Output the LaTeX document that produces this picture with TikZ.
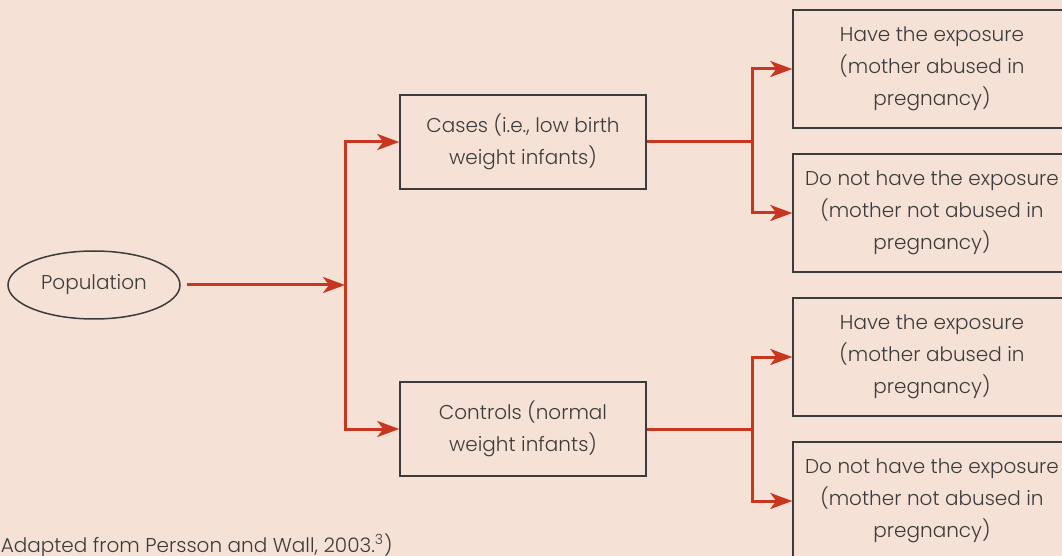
\documentclass[tikz,border=0pt]{standalone}
\usepackage{fontspec}
\setmainfont{Poppins}[UprightFont=* Light]
\usetikzlibrary{arrows.meta}
\usetikzlibrary{positioning}
\usetikzlibrary{shapes.geometric}
\definecolor{bgpeach}{HTML}{F6E1D7}
\definecolor{arrowred}{HTML}{C8361F}
\definecolor{inkgrey}{HTML}{3C3C3C}
\tikzset{flow/.style = {draw=arrowred, line width=1.5pt,
                        -{Stealth[length=11pt, width=8pt, inset=3pt]}}}
\tikzset{stage/.style = {draw=inkgrey, line width=0.75pt, text=inkgrey, align=center,
                         minimum width=123pt, minimum height=47pt, inner sep=0}}
\tikzset{outcome/.style = {stage, minimum width=139pt, minimum height=59pt}}

\begin{document}
\begin{tikzpicture}[x=0.5pt, y=-0.5pt, font=\fontsize{10pt}{16pt}\selectfont]
    \path [use as bounding box, fill=bgpeach] (0, 0) rectangle (1062, 556);

    \node [ellipse, draw=inkgrey, line width=0.75pt, text=inkgrey, inner sep=0,
           minimum width=86pt, minimum height=34pt] (pop) at (94, 285) {Population};

    \node [stage] (cases) at (523, 142) {Cases (i.e., low birth\\weight infants)};
    \node [stage] (controls) at (523, 429) {Controls (normal\\weight infants)};

    \node [outcome] (exp1) at (932, 69) {Have the exposure\\(mother abused in\\pregnancy)};
    \node [outcome] (noexp1) at (932, 213) {Do not have the exposure\\(mother not abused in\\pregnancy)};
    \node [outcome] (exp2) at (932, 357) {Have the exposure\\(mother abused in\\pregnancy)};
    \node [outcome] (noexp2) at (932, 501) {Do not have the exposure\\(mother not abused in\\pregnancy)};

    \coordinate (split) at (345, 285);
    \coordinate (fork1) at (752, 142);
    \coordinate (fork2) at (752, 429);

    \draw [flow, shorten <=3pt] (pop) -- (split);
    \draw [flow] (split) |- (cases);
    \draw [flow] (split) |- (controls);

    \draw [flow, -] (cases) -- (fork1);
    \draw [flow] (fork1) |- (exp1);
    \draw [flow] (fork1) |- (noexp1);

    \draw [flow, -] (controls) -- (fork2);
    \draw [flow] (fork2) |- (exp2);
    \draw [flow] (fork2) |- (noexp2);

    \node [anchor=base west, text=inkgrey, inner sep=0] (source) at (-8, 552)
        {(Adapted from Persson and Wall, 2003.\textsuperscript{3})};
\end{tikzpicture}
\end{document}
